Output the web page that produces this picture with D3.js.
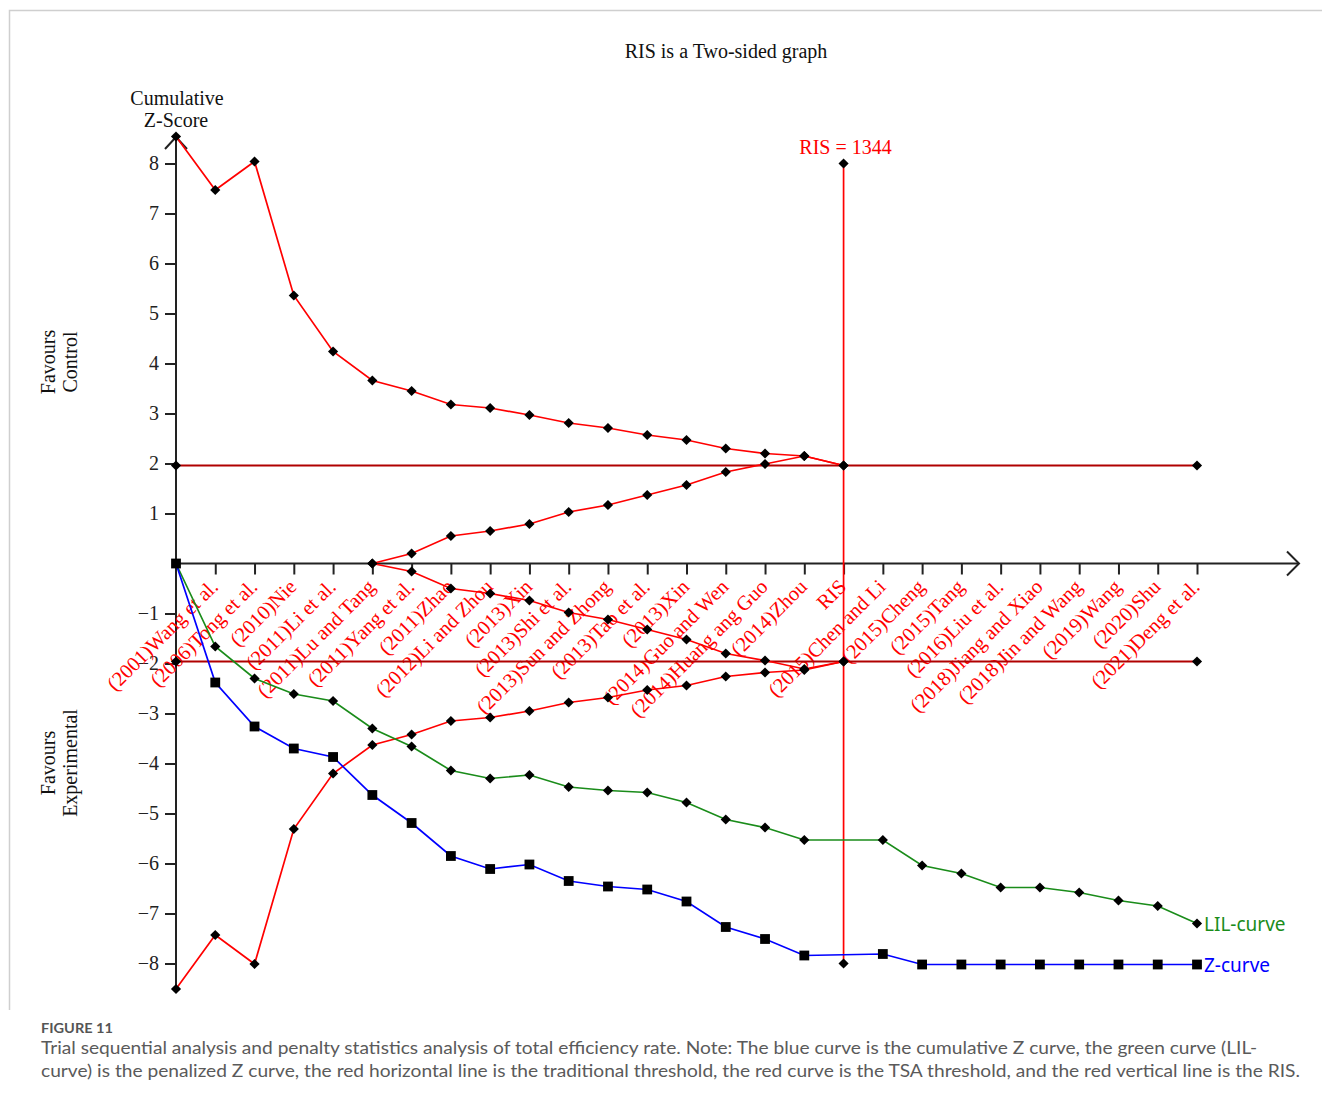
<!DOCTYPE html>
<html>
<head>
<meta charset="utf-8">
<script src="https://cdn.jsdelivr.net/npm/d3@7"></script>
<style>
  html, body { margin: 0; padding: 0; background: #fff; }
  svg { display: block; }
</style>
</head>
<body>
<svg id="chart" width="1322" height="1104"></svg>
<script>
// Study labels along the information axis (index 1..26); "RIS" marks the required information size.
const studyLabels = [
  "(2001)Wang et al.", "(2006)Tong et al.", "(2010)Nie", "(2011)Li et al.",
  "(2011)Lu and Tang", "(2011)Yang et al.", "(2011)Zhao", "(2012)Li and Zhou",
  "(2013)Xin", "(2013)Shi et al.", "(2013)Sun and Zhong", "(2013)Tao et al.",
  "(2013)Xin", "(2014)Guo and Wen", "(2014)Huang ang Guo", "(2014)Zhou",
  "RIS", "(2015)Chen and Li", "(2015)Cheng", "(2015)Tang", "(2016)Liu et al.",
  "(2018)Jiang and Xiao", "(2018)Jin and Wang", "(2019)Wang", "(2020)Shu",
  "(2021)Deng et al."
];
const risIndex = 17;
const risValue = 1344;

// Cumulative Z-curve, index 0..26 (null at the RIS position)
const zCurve = [0, -2.38, -3.26, -3.70, -3.87, -4.63, -5.19, -5.85, -6.11, -6.02,
  -6.35, -6.46, -6.52, -6.76, -7.27, -7.51, -7.84, null, -7.81,
  -8.02, -8.02, -8.02, -8.02, -8.02, -8.02, -8.02, -8.02];

// Penalised Z-curve (law of the iterated logarithm)
const lilCurve = [0, -1.66, -2.30, -2.61, -2.75, -3.30, -3.66, -4.14, -4.30, -4.23,
  -4.47, -4.54, -4.58, -4.78, -5.12, -5.28, -5.53, null, -5.53,
  -6.04, -6.20, -6.48, -6.48, -6.58, -6.74, -6.85, -7.20];

// TSA monitoring boundaries, index 0..17
const upperBoundary = [8.54, 7.47, 8.04, 5.36, 4.24, 3.66, 3.45, 3.18, 3.11, 2.97,
  2.81, 2.71, 2.57, 2.47, 2.30, 2.20, 2.15, 1.96];
const lowerBoundary = [-8.51, -7.43, -8.01, -5.31, -4.20, -3.63, -3.42, -3.15, -3.08, -2.95,
  -2.78, -2.68, -2.53, -2.44, -2.26, -2.18, -2.13, -1.96];

// Futility (inner wedge) boundaries, index 5..17
const futilityStart = 5;
const upperFutility = [0, 0.20, 0.55, 0.65, 0.79, 1.03, 1.17, 1.37, 1.57, 1.83, 1.99, 2.15, 1.96];
const lowerFutility = [0, -0.16, -0.50, -0.60, -0.74, -0.98, -1.12, -1.32, -1.52, -1.80, -1.94, -2.11, -1.96];

// Conventional two-sided threshold and RIS line extent
const conventional = [1.96, -1.96];
const risExtent = [8, -8];
const yTicks = [-8, -7, -6, -5, -4, -3, -2, -1, 1, 2, 3, 4, 5, 6, 7, 8];

const svg = d3.select("#chart");
const serif = "'Liberation Serif', 'Times New Roman', serif";
const sans = "'Noto Sans', 'Open Sans', sans-serif";

const x = d3.scaleLinear().domain([0, 26]).range([176, 1197]);
const y = d3.scaleLinear().domain([-8, 8]).range([963.5, 163.5]);

// Frame
svg.append("path")
  .attr("d", "M9.5,1010 V10.5 H1322")
  .attr("fill", "none").attr("stroke", "#cfcfcf").attr("stroke-width", 1.5);

// Title
svg.append("text").attr("x", 726).attr("y", 58)
  .attr("text-anchor", "middle").attr("font-family", serif).attr("font-size", 20)
  .attr("fill", "#111").text("RIS is a Two-sided graph");

// Y axis title
const yTitle = svg.append("text").attr("text-anchor", "middle")
  .attr("font-family", serif).attr("font-size", 20).attr("fill", "#111");
yTitle.append("tspan").attr("x", 177).attr("y", 105).text("Cumulative");
yTitle.append("tspan").attr("x", 176).attr("y", 127).text("Z-Score");

function sideLabel(cy, l1, l2) {
  const g = svg.append("g").attr("transform", `translate(59,${cy}) rotate(-90)`);
  const t = g.append("text").attr("text-anchor", "middle")
    .attr("font-family", serif).attr("font-size", 20).attr("fill", "#111");
  t.append("tspan").attr("x", 0).attr("y", -4).text(l1);
  t.append("tspan").attr("x", 0).attr("y", 18).text(l2);
}
sideLabel(362, "Favours", "Control");
sideLabel(763, "Favours", "Experimental");

// Y axis
const yAxis = d3.axisLeft(y).tickValues(yTicks).tickSize(11).tickPadding(6)
  .tickFormat(d => (d < 0 ? "\u2212" + Math.abs(d) : String(d)));
const gy = svg.append("g").attr("transform", `translate(${x(0)},0)`).call(yAxis);
gy.select(".domain").remove();
gy.selectAll(".tick line").attr("stroke", "#222").attr("stroke-width", 2);
gy.selectAll(".tick text").attr("font-family", serif).attr("font-size", 20).attr("fill", "#222");
svg.append("line").attr("x1", x(0)).attr("x2", x(0)).attr("y1", 989).attr("y2", 136)
  .attr("stroke", "#222").attr("stroke-width", 2);
svg.append("path").attr("d", `M${x(0) - 11},149 L${x(0)},137 L${x(0) + 11},149`)
  .attr("fill", "none").attr("stroke", "#222").attr("stroke-width", 2);

// X axis
const xAxis = d3.axisBottom(x).tickValues(d3.range(1, 27)).tickSize(11).tickFormat("");
const gx = svg.append("g").attr("transform", `translate(0,${y(0)})`).call(xAxis);
gx.select(".domain").remove();
gx.selectAll(".tick line").attr("stroke", "#222").attr("stroke-width", 2);
svg.append("line").attr("x1", x(0)).attr("x2", 1299).attr("y1", y(0)).attr("y2", y(0))
  .attr("stroke", "#222").attr("stroke-width", 2);
svg.append("path").attr("d", `M1287,${y(0) - 12} L1299,${y(0)} L1287,${y(0) + 12}`)
  .attr("fill", "none").attr("stroke", "#222").attr("stroke-width", 2);

// Rotated study labels
svg.append("g").selectAll("text").data(studyLabels).join("text")
  .attr("transform", (d, i) => `translate(${x(i + 1) + 4},588) rotate(-45)`)
  .attr("text-anchor", "end").attr("font-family", serif).attr("font-size", 20.5)
  .attr("fill", "#ff0000").text(d => d);

// Conventional threshold lines
conventional.forEach(v => {
  svg.append("line").attr("x1", x(0)).attr("x2", x(26)).attr("y1", y(v)).attr("y2", y(v))
    .attr("stroke", "#b00000").attr("stroke-width", 2);
});

const line = d3.line().x(d => x(d[0])).y(d => y(d[1]));
const toPts = (arr, start) => arr.map((v, i) => [i + start, v]).filter(p => p[1] !== null);

// TSA boundaries
[upperBoundary, lowerBoundary].forEach(arr => {
  svg.append("path").attr("d", line(toPts(arr, 0)))
    .attr("fill", "none").attr("stroke", "#ff0000").attr("stroke-width", 1.7);
});
[upperFutility, lowerFutility].forEach(arr => {
  svg.append("path").attr("d", line(toPts(arr, futilityStart)))
    .attr("fill", "none").attr("stroke", "#ff0000").attr("stroke-width", 1.7);
});

// RIS vertical line
svg.append("line").attr("x1", x(risIndex)).attr("x2", x(risIndex))
  .attr("y1", y(risExtent[0])).attr("y2", y(risExtent[1]))
  .attr("stroke", "#ff0000").attr("stroke-width", 1.7);
svg.append("text").attr("x", x(risIndex) + 2).attr("y", 154)
  .attr("text-anchor", "middle").attr("font-family", serif).attr("font-size", 20)
  .attr("fill", "#ff0000").text(`RIS = ${risValue}`);

// Z-curve and LIL-curve
svg.append("path").attr("d", line(toPts(lilCurve, 0)))
  .attr("fill", "none").attr("stroke", "#1a8c1a").attr("stroke-width", 1.7);
svg.append("path").attr("d", line(toPts(zCurve, 0)))
  .attr("fill", "none").attr("stroke", "#0000ff").attr("stroke-width", 1.7);

// Markers
const diamond = d3.symbol().type(d3.symbolDiamond2).size(66);
const square = d3.symbol().type(d3.symbolSquare).size(96);
function diamonds(pts) {
  svg.append("g").selectAll("path").data(pts).join("path")
    .attr("transform", p => `translate(${x(p[0])},${y(p[1])})`)
    .attr("d", diamond).attr("fill", "#000");
}
diamonds(toPts(upperBoundary, 0));
diamonds(toPts(lowerBoundary, 0));
diamonds(toPts(upperFutility, futilityStart));
diamonds(toPts(lowerFutility, futilityStart));
diamonds(conventional.flatMap(v => [[0, v], [26, v]]));
diamonds(risExtent.map(v => [risIndex, v]));
diamonds(toPts(lilCurve, 0).slice(1));
svg.append("g").selectAll("path").data(toPts(zCurve, 0)).join("path")
  .attr("transform", p => `translate(${x(p[0])},${y(p[1])})`)
  .attr("d", square).attr("fill", "#000");

// Curve labels
svg.append("text").attr("x", x(26) + 7).attr("y", y(lilCurve[26]) + 7)
  .attr("font-family", sans).attr("font-size", 19).attr("fill", "#1a8c1a").text("LIL-curve");
svg.append("text").attr("x", x(26) + 7).attr("y", y(zCurve[26]) + 7)
  .attr("font-family", sans).attr("font-size", 19).attr("fill", "#0000ff").text("Z-curve");

// Caption
const capFont = "Lato, 'Open Sans', sans-serif";
svg.append("text").attr("x", 41).attr("y", 1033)
  .attr("font-family", capFont).attr("font-size", 13).attr("font-weight", 700)
  .attr("fill", "#555").attr("textLength", 72).attr("lengthAdjust", "spacingAndGlyphs")
  .text("FIGURE 11");
svg.append("text").attr("x", 41).attr("y", 1054)
  .attr("font-family", capFont).attr("font-size", 17).attr("fill", "#5a5a5a")
  .attr("textLength", 1216).attr("lengthAdjust", "spacingAndGlyphs")
  .text("Trial sequential analysis and penalty statistics analysis of total efficiency rate. Note: The blue curve is the cumulative Z curve, the green curve (LIL-");
svg.append("text").attr("x", 41).attr("y", 1077)
  .attr("font-family", capFont).attr("font-size", 17).attr("fill", "#5a5a5a")
  .attr("textLength", 1259).attr("lengthAdjust", "spacingAndGlyphs")
  .text("curve) is the penalized Z curve, the red horizontal line is the traditional threshold, the red curve is the TSA threshold, and the red vertical line is the RIS.");
</script>
</body>
</html>
